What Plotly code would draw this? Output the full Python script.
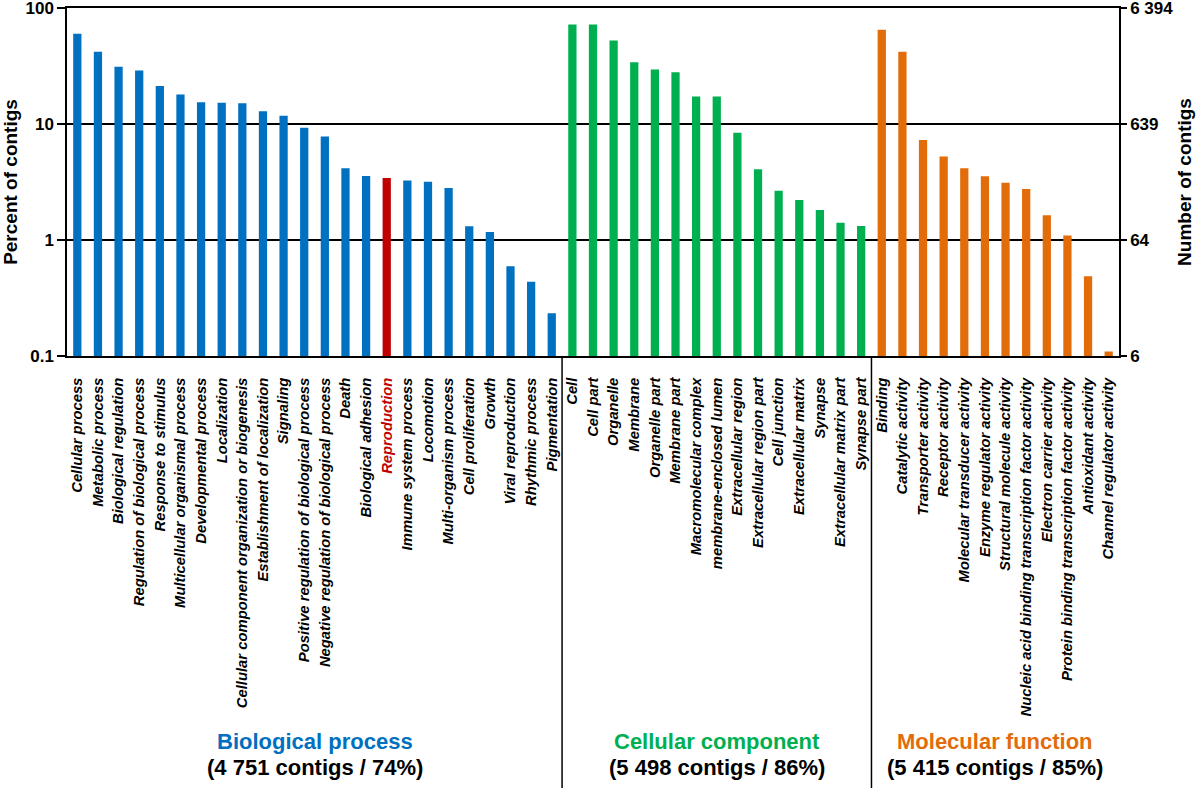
import plotly.graph_objects as go
import math

bp_names = ["Cellular process", "Metabolic process", "Biological regulation",
            "Regulation of biological process", "Response to stimulus",
            "Multicellular organismal process", "Developmental process", "Localization",
            "Cellular component organization or biogenesis", "Establishment of localization",
            "Signaling", "Positive regulation of biological process",
            "Negative regulation of biological process", "Death", "Biological adhesion",
            "Reproduction", "Immune system process", "Locomotion", "Multi-organism process",
            "Cell proliferation", "Growth", "Viral reproduction", "Rhythmic process",
            "Pigmentation"]
bp_values = [60.0, 42.0, 31.2, 29.0, 21.3, 18.0, 15.4, 15.3, 15.1, 12.9, 11.8, 9.3, 7.8,
             4.15, 3.56, 3.42, 3.25, 3.18, 2.81, 1.31, 1.17, 0.593, 0.437, 0.233]

cc_names = ["Cell", "Cell part", "Organelle", "Membrane", "Organelle part", "Membrane part",
            "Macromolecular complex", "membrane-enclosed lumen", "Extracellular region",
            "Extracellular region part", "Cell junction", "Extracellular matrix", "Synapse",
            "Extracellular matrix part", "Synapse part"]
cc_values = [72.3, 72.3, 52.6, 34.2, 29.6, 28.0, 17.3, 17.3, 8.4, 4.07, 2.66, 2.21, 1.81,
             1.41, 1.32]

mf_names = ["Binding", "Catalytic activity", "Transporter activity", "Receptor activity",
            "Molecular transducer activity", "Enzyme regulator activity",
            "Structural molecule activity", "Nucleic acid binding transcription factor activity",
            "Electron carrier activity", "Protein binding transcription factor activity",
            "Antioxidant activity", "Channel regulator activity"]
mf_values = [65.0, 42.0, 7.28, 5.26, 4.15, 3.54, 3.12, 2.75, 1.63, 1.09, 0.487, 0.109]

left_ticks = [0.1, 1, 10, 100]
left_ticktext = ["0.1", "1", "10", "100"]
right_ticks = [6.394, 63.94, 639.4, 6394]
right_ticktext = ["6", "64", "639", "6 394"]

groups = [
    ("Biological process", "(4 751 contigs / 74%)", bp_names, bp_values, "#0070C0"),
    ("Cellular component", "(5 498 contigs / 86%)", cc_names, cc_values, "#00B050"),
    ("Molecular function", "(5 415 contigs / 85%)", mf_names, mf_values, "#E36C0A"),
]
RED = "#C00000"

all_names = bp_names + cc_names + mf_names
xidx = list(range(len(all_names)))

fig = go.Figure()
start = 0
for gname, gsub, names, vals, col in groups:
    colors = [RED if n == "Reproduction" else col for n in names]
    fig.add_trace(go.Bar(x=xidx[start:start + len(names)], y=vals, marker_color=colors,
                         marker_line_width=0, width=0.4, showlegend=False))
    start += len(names)

# dummy for secondary axis
fig.add_trace(go.Scatter(x=[0], y=[639.4], yaxis="y2", mode="markers",
                         marker=dict(opacity=0), showlegend=False, hoverinfo="skip"))

ticktext = [f'<span style="color:{RED}">{n}</span>' if n == "Reproduction" else n
            for n in all_names]

FONT = "Liberation Sans, Arial, sans-serif"
EPS = 0.001
fig.update_layout(
    width=1200, height=788,
    margin=dict(l=67, r=81, t=8, b=432, autoexpand=False),
    plot_bgcolor="white", paper_bgcolor="white",
    font=dict(family=FONT, color="black"),
    bargap=0.6,
    xaxis=dict(
        range=[-0.5, len(all_names) - 0.5], automargin=False,
        tickmode="array", tickvals=xidx, ticktext=ticktext,
        tickangle=-90, ticks="", ticklabelstandoff=14,
        tickfont=dict(size=14.8, family=FONT, weight="bold", style="italic", color="black"),
        showline=True, linecolor="black", linewidth=1.5, mirror=True,
        showgrid=False, zeroline=False,
    ),
    yaxis=dict(
        type="log", range=[-1 - EPS, 2 + EPS], automargin=False,
        tickmode="array", tickvals=left_ticks, ticktext=left_ticktext,
        ticks="outside", ticklen=8, tickwidth=1.5, tickcolor="black",
        ticklabeloverflow="allow",
        tickfont=dict(size=17, family=FONT, weight="bold"),
        showline=True, linecolor="black", linewidth=1.5,
        showgrid=True, gridcolor="black", gridwidth=1.5, zeroline=False,
        title=dict(text="Percent of contigs", font=dict(size=19, family=FONT, weight="bold"),
                   standoff=8),
    ),
    yaxis2=dict(
        type="log", overlaying="y", side="right", automargin=False,
        range=[math.log10(6.394) - EPS, math.log10(6394) + EPS],
        tickmode="array", tickvals=right_ticks, ticktext=right_ticktext,
        ticks="outside", ticklen=6, tickwidth=1.5, tickcolor="black",
        ticklabeloverflow="allow",
        tickfont=dict(size=17, family=FONT, weight="bold"),
        showline=True, linecolor="black", linewidth=1.5, showgrid=False, zeroline=False,
        title=dict(text="Number of contigs", font=dict(size=19, family=FONT, weight="bold"),
                   standoff=5),
    ),
)

# separators
plot_h = 788 - 8 - 432
ybot = -(432) / plot_h
for xs in [len(bp_names) - 0.5, len(bp_names) + len(cc_names) - 0.5]:
    fig.add_shape(type="line", xref="x", yref="paper", x0=xs, x1=xs, y0=0, y1=ybot,
                  line=dict(color="black", width=1.5))

# group labels
start = 0
for gname, gsub, names, vals, col in groups:
    center = start + (len(names) - 1) / 2
    start += len(names)
    fig.add_annotation(x=center, xref="x", y=-(741 - 356) / plot_h, yref="paper",
                       text=f"<b>{gname}</b>", showarrow=False,
                       font=dict(size=22, color=col, family=FONT), yanchor="middle")
    fig.add_annotation(x=center, xref="x", y=-(768 - 356) / plot_h, yref="paper",
                       text=f"<b>{gsub}</b>", showarrow=False,
                       font=dict(size=22, color="black", family=FONT), yanchor="middle")

fig.write_html("out.html", config={"displayModeBar": False},
               post_script="document.body.style.margin='0';document.body.style.overflow='hidden';")
